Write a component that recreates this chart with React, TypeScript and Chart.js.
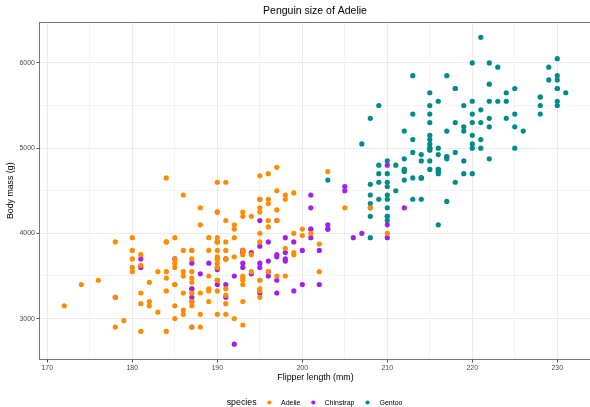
import React, { useEffect, useRef } from "react";
import { Chart, registerables } from "chart.js";

Chart.register(...registerables);

const chartTitle = "Penguin size of Adelie";
const xTitle = "Flipper length (mm)";
const yTitle = "Body mass (g)";
const legendTitle = "species";
const speciesNames = ["Adelie", "Chinstrap", "Gentoo"];
const speciesColors = ["#FF8C00", "#A020F0", "#008B8B"];

const xMajorTicks = [170, 180, 190, 200, 210, 220, 230];
const xMinorTicks = [175, 185, 195, 205, 215, 225];
const yMajorTicks = [3000, 4000, 5000, 6000];
const yMinorTicks = [3500, 4500, 5500];

const adelieFlipper = [
  181, 186, 195, 193, 190, 181, 195, 193, 190, 186, 180, 182, 191, 198, 185, 195, 197, 184, 194,
  174, 180, 189, 185, 180, 187, 183, 187, 172, 180,
  178, 178, 188, 184, 195, 196, 190, 180, 181, 184, 182, 195, 186, 196, 185, 190, 182, 179, 190, 191,
  186, 188, 190, 200, 187, 191, 186, 193, 181, 194, 185, 195, 185, 192, 184, 192, 195, 188,
  190, 198, 190, 190, 196, 197, 190, 195, 191, 184, 187, 195, 189, 196, 187, 193,
  191, 194, 190, 189, 189, 190, 202, 205, 185, 186, 187, 208, 190, 196, 178, 192,
  192, 203, 183, 190, 193, 184, 199, 190, 181, 197, 198, 191, 193, 197, 191, 196,
  188, 199, 189, 189, 187, 198, 176, 202, 186, 199, 191, 195, 191, 210, 190, 197,
  193, 199, 187, 190, 191, 200, 185, 193, 193, 187, 188, 190, 192, 185, 190, 184, 195, 193, 187, 201,
];
const adelieMass = [
  3750, 3800, 3250, 3450, 3650, 3625, 4675, 3475, 4250, 3300, 3700, 3200, 3800, 4400, 3700, 3450, 4500, 3325, 4200,
  3400, 3600, 3800, 3950, 3800, 3800, 3550, 3200, 3150, 3950,
  3250, 3900, 3300, 3900, 3325, 4150, 3950, 3550, 3300, 4650, 3150, 3900, 3100, 4400, 3000, 4600, 3425, 2975, 3450, 4150,
  3500, 4300, 3450, 4050, 2900, 3700, 3550, 3800, 2850, 3750, 3150, 4400, 3600, 4050, 2850, 3950, 3350, 4100,
  3050, 4450, 3600, 3900, 3550, 4150, 3700, 4250, 3700, 3900, 3550, 4000, 3200, 4700, 3800, 4200,
  3350, 3550, 3800, 3500, 3950, 3600, 3550, 4300, 3400, 4450, 3300, 4300, 3700, 4350, 2900, 4100,
  3725, 4725, 3075, 4250, 2925, 3550, 3750, 3900, 3175, 4775, 3825, 4600, 3200, 4275, 3900, 4075,
  2900, 3775, 3350, 3325, 3150, 3500, 3450, 3875, 3050, 4000, 3275, 4300, 3050, 4000, 3325, 3500,
  3500, 4475, 3425, 3900, 3175, 3975, 3400, 4250, 3400, 3475, 3050, 3725, 3000, 3650, 4250, 3475, 3450, 3750, 3700, 4000,
];

const chinstrapFlipper = [
  192, 196, 193, 188, 197, 198, 178, 197, 195, 198,
  193, 194, 185, 201, 190, 201, 197, 181, 190, 195,
  181, 191, 187, 193, 195, 197, 200, 200, 191, 205,
  187, 201, 187, 203, 195, 199, 195, 210, 192, 205,
  210, 187, 196, 196, 196, 201, 190, 212, 187, 198,
  199, 201, 193, 203, 187, 197, 191, 203, 202, 194,
  206, 189, 195, 207, 202, 193, 210, 198,
];
const chinstrapMass = [
  3500, 3900, 3650, 3525, 3725, 3950, 3250, 3750, 4150, 3700,
  3800, 3775, 3700, 4050, 3575, 4050, 3300, 3700, 3450, 4400,
  3600, 3400, 2900, 3800, 3300, 4150, 3400, 3800, 3700, 4550,
  3200, 4300, 3350, 4100, 3600, 3900, 3850, 4800, 2700, 4500,
  3950, 3650, 3550, 3500, 3675, 4450, 3400, 4300, 3250, 3675,
  3325, 3950, 3600, 4050, 3350, 3450, 3250, 4050, 3800, 3525,
  3950, 3650, 3650, 4000, 3400, 3775, 4100, 3775,
];

const gentooFlipper = [
  211, 230, 210, 218, 215, 210, 211, 219, 209, 215,
  214, 216, 214, 213, 210, 217, 210, 221, 209, 222,
  218, 215, 213, 215, 215, 215, 216, 215, 210, 220,
  222, 209, 207, 230, 220, 220, 213, 219, 208, 208,
  208, 225, 210, 216, 222, 217, 210, 225, 213, 215,
  210, 220, 210, 225, 217, 220, 208, 220, 208, 224,
  208, 221, 214, 231, 219, 230, 214, 229, 220, 223,
  216, 221, 221, 217, 216, 230, 209, 220, 215, 223,
  212, 221, 212, 224, 212, 228, 218, 218, 212, 230,
  218, 228, 212, 224, 214, 226, 216, 222, 203, 225,
  219, 228, 215, 228, 216, 215, 210, 219, 208, 209,
  216, 229, 213, 230, 217, 230, 217, 222, 214, 215,
  222, 212, 213,
];
const gentooMass = [
  4500, 5700, 4450, 5700, 5400, 4550, 4800, 5200, 4400, 5150,
  4650, 5550, 4650, 5850, 4200, 5850, 4150, 6300, 4800, 5350,
  5700, 5000, 4400, 5050, 5000, 5100, 4100, 5650, 4600, 5550,
  5250, 4700, 5050, 6050, 5150, 5400, 4950, 5250, 4350, 5350,
  3950, 5700, 4300, 4750, 5550, 4900, 4200, 5400, 5100, 5300,
  4850, 5300, 4400, 5000, 4900, 5050, 4300, 5000, 4450, 5550,
  4200, 5300, 4400, 5650, 4700, 5700, 4650, 5800, 4700, 5550,
  4750, 5000, 5100, 5200, 4700, 5800, 4600, 6000, 4750, 5950,
  4625, 5450, 4725, 5350, 4750, 5600, 4600, 5300, 4875, 5550,
  4950, 5400, 4750, 5650, 4850, 5200, 4925, 4875, 4625, 5250,
  4850, 5600, 4975, 5500, 4725, 5500, 4700, 5500, 4575, 5500,
  5000, 5950, 4650, 5500, 4375, 5850, 4875, 6000, 4925, 4850,
  5750, 5200, 5400,
];

const seriesX = [adelieFlipper, chinstrapFlipper, gentooFlipper];
const seriesY = [adelieMass, chinstrapMass, gentooMass];

const FONT = "'Liberation Sans', Arial, Helvetica, sans-serif";

const decorPlugin = {
  id: "decor",
  afterDraw(chart: any) {
    const { ctx, chartArea } = chart;
    const { left, right, top, bottom } = chartArea;
    ctx.save();
    // top panel line
    ctx.strokeStyle = "#777777";
    ctx.lineWidth = 1;
    ctx.beginPath();
    ctx.moveTo(left, top + 0.5);
    ctx.lineTo(right, top + 0.5);
    ctx.stroke();

    ctx.fillStyle = "#000000";
    ctx.textAlign = "center";
    ctx.textBaseline = "middle";
    // title
    ctx.font = `10.5px ${FONT}`;
    ctx.fillText(chartTitle, 315, 11.5);
    // x title
    ctx.font = `8.8px ${FONT}`;
    ctx.fillText(xTitle, 315.5, 377.5);
    // y title
    ctx.save();
    ctx.translate(10.5, (top + bottom) / 2);
    ctx.rotate(-Math.PI / 2);
    ctx.fillText(yTitle, 0, 0);
    ctx.restore();

    // legend
    const ly = 403;
    ctx.textAlign = "left";
    ctx.font = `8.8px ${FONT}`;
    ctx.fillText(legendTitle, 226.7, ly);
    const dotX = [269.3, 313.3, 367.5];
    const labelX = [281, 324.5, 379.5];
    ctx.font = `7px ${FONT}`;
    for (let i = 0; i < speciesNames.length; i++) {
      ctx.fillStyle = speciesColors[i];
      ctx.beginPath();
      ctx.arc(dotX[i], ly - 0.5, 2.1, 0, Math.PI * 2);
      ctx.fill();
      ctx.fillStyle = "#000000";
      ctx.fillText(speciesNames[i], labelX[i], ly);
    }
    ctx.restore();
  },
};

export default function App() {
  const canvasRef = useRef<HTMLCanvasElement | null>(null);

  useEffect(() => {
    if (!canvasRef.current) return;
    const datasets = speciesNames.map((name, i) => ({
      label: name,
      data: seriesX[i].map((x, j) => ({ x, y: seriesY[i][j] })),
      backgroundColor: speciesColors[i],
      borderColor: speciesColors[i],
      borderWidth: 0,
      pointRadius: 2.6,
      pointHoverRadius: 2.6,
    }));
    const xAll = [...xMajorTicks, ...xMinorTicks].sort((a, b) => a - b);
    const yAll = [...yMajorTicks, ...yMinorTicks].sort((a, b) => a - b);

    const chart = new Chart(canvasRef.current, {
      type: "scatter",
      data: { datasets },
      plugins: [decorPlugin],
      options: {
        animation: false,
        responsive: false,
        devicePixelRatio: 1,
        layout: { autoPadding: false, padding: { top: 22, left: 0, right: 0, bottom: 0 } },
        plugins: {
          legend: { display: false },
          title: { display: false },
          tooltip: { enabled: false },
        },
        scales: {
          x: {
            type: "linear",
            min: 169.08,
            max: 233.85,
            afterBuildTicks: (scale: any) => {
              scale.ticks = xAll.map((v) => ({ value: v }));
            },
            afterFit: (scale: any) => {
              scale.height = 47.5;
            },
            border: { display: true, color: "#777777", width: 1 },
            grid: {
              color: "#EBEBEB",
              lineWidth: (c: any) => (xMajorTicks.includes(c.tick?.value) ? 1 : 0.6),
              tickLength: 3,
              tickColor: (c: any) => (xMajorTicks.includes(c.tick?.value) ? "#555555" : "rgba(0,0,0,0)"),
            },
            ticks: {
              autoSkip: false,
              maxRotation: 0,
              padding: 1,
              color: "#4D4D4D",
              font: { family: FONT, size: 7 },
              callback: (v: any) => (xMajorTicks.includes(Number(v)) ? String(v) : ""),
            },
          },
          y: {
            type: "linear",
            min: 2520,
            max: 6480,
            afterBuildTicks: (scale: any) => {
              scale.ticks = yAll.map((v) => ({ value: v }));
            },
            afterFit: (scale: any) => {
              scale.width = 39.5;
            },
            border: { display: true, color: "#777777", width: 1 },
            grid: {
              color: "#EBEBEB",
              lineWidth: (c: any) => (yMajorTicks.includes(c.tick?.value) ? 1 : 0.6),
              tickLength: 3,
              tickColor: (c: any) => (yMajorTicks.includes(c.tick?.value) ? "#555555" : "rgba(0,0,0,0)"),
            },
            ticks: {
              autoSkip: false,
              padding: 1.5,
              color: "#4D4D4D",
              font: { family: FONT, size: 7 },
              callback: (v: any) => (yMajorTicks.includes(Number(v)) ? String(v) : ""),
            },
          },
        },
      },
    });
    return () => chart.destroy();
  }, []);

  return (
    <div style={{ position: "absolute", left: 0, top: 0, width: 590, height: 407, background: "#ffffff" }}>
      <canvas ref={canvasRef} width={590} height={407} />
    </div>
  );
}
